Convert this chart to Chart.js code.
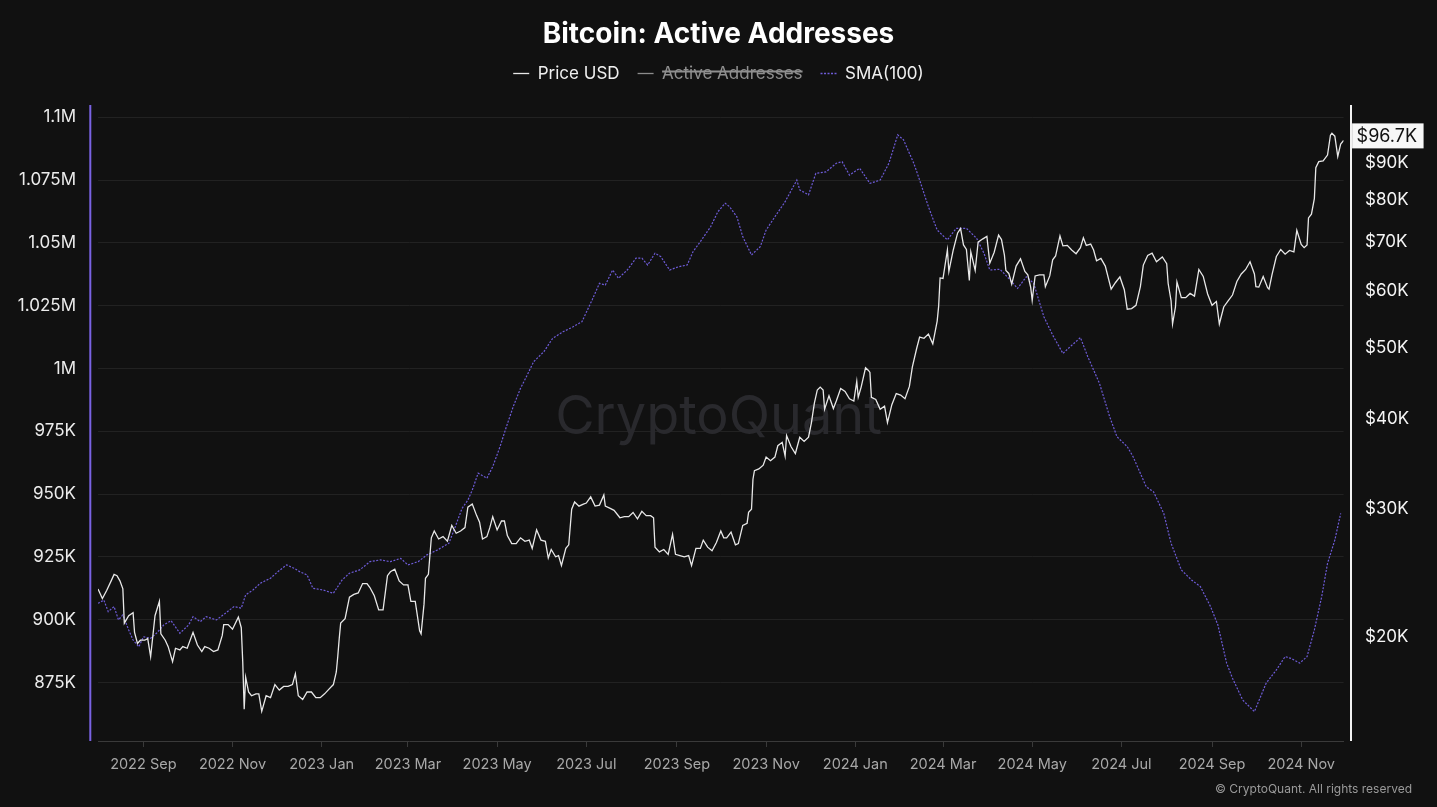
<!DOCTYPE html>
<html>
<head>
<meta charset="utf-8">
<title>Bitcoin: Active Addresses</title>
<script src="https://cdn.jsdelivr.net/npm/chart.js@4.4.1/dist/chart.umd.min.js"></script>
<style>
  html, body { margin: 0; padding: 0; background: #111111; }
  #wrap { position: relative; width: 1437px; height: 807px; }
</style>
</head>
<body>
<div id="wrap"><canvas id="chart"></canvas></div>
<script>
// BTC price (right axis, log)
const priceDates = [
  '2022-08-01','2022-08-04','2022-08-07','2022-08-10','2022-08-12','2022-08-14','2022-08-16','2022-08-18','2022-08-19','2022-08-22',
  '2022-08-25','2022-08-26','2022-08-28','2022-08-30','2022-09-02','2022-09-04','2022-09-06','2022-09-09','2022-09-12','2022-09-13',
  '2022-09-16','2022-09-18','2022-09-21','2022-09-23','2022-09-26','2022-09-28','2022-10-01','2022-10-05','2022-10-08','2022-10-11',
  '2022-10-13','2022-10-16','2022-10-19','2022-10-22','2022-10-25','2022-10-26','2022-10-29','2022-11-01','2022-11-05','2022-11-07',
  '2022-11-08','2022-11-09','2022-11-10','2022-11-12','2022-11-14','2022-11-17','2022-11-19','2022-11-21','2022-11-24','2022-11-27',
  '2022-11-30','2022-12-03','2022-12-06','2022-12-09','2022-12-12','2022-12-14','2022-12-16','2022-12-19','2022-12-22','2022-12-25',
  '2022-12-28','2022-12-31','2023-01-03','2023-01-06','2023-01-09','2023-01-11','2023-01-12','2023-01-13','2023-01-14','2023-01-17',
  '2023-01-20','2023-01-23','2023-01-26','2023-01-29','2023-02-01','2023-02-03','2023-02-06','2023-02-09','2023-02-12','2023-02-15',
  '2023-02-17','2023-02-20','2023-02-23','2023-02-26','2023-03-01','2023-03-03','2023-03-06','2023-03-09','2023-03-10','2023-03-12',
  '2023-03-13','2023-03-15','2023-03-17','2023-03-19','2023-03-22','2023-03-25','2023-03-28','2023-03-31','2023-04-03','2023-04-06',
  '2023-04-09','2023-04-11','2023-04-14','2023-04-17','2023-04-19','2023-04-21','2023-04-24','2023-04-26','2023-04-28','2023-05-01',
  '2023-05-04','2023-05-06','2023-05-08','2023-05-11','2023-05-14','2023-05-17','2023-05-20','2023-05-23','2023-05-25','2023-05-28',
  '2023-05-31','2023-06-03','2023-06-05','2023-06-07','2023-06-10','2023-06-12','2023-06-14','2023-06-17','2023-06-19','2023-06-21',
  '2023-06-23','2023-06-26','2023-06-29','2023-07-01','2023-07-04','2023-07-07','2023-07-10','2023-07-13','2023-07-14','2023-07-17',
  '2023-07-20','2023-07-24','2023-07-27','2023-07-30','2023-08-02','2023-08-05','2023-08-08','2023-08-11','2023-08-14','2023-08-16',
  '2023-08-17','2023-08-20','2023-08-23','2023-08-26','2023-08-29','2023-08-31','2023-09-03','2023-09-06','2023-09-09','2023-09-11',
  '2023-09-14','2023-09-17','2023-09-19','2023-09-22','2023-09-25','2023-09-28','2023-10-01','2023-10-03','2023-10-05','2023-10-08',
  '2023-10-11','2023-10-13','2023-10-16','2023-10-19','2023-10-20','2023-10-22','2023-10-23','2023-10-24','2023-10-27','2023-10-30',
  '2023-11-01','2023-11-04','2023-11-07','2023-11-09','2023-11-12','2023-11-14','2023-11-15','2023-11-18','2023-11-21','2023-11-24',
  '2023-11-27','2023-11-30','2023-12-02','2023-12-04','2023-12-06','2023-12-08','2023-12-10','2023-12-11','2023-12-14','2023-12-17',
  '2023-12-19','2023-12-22','2023-12-25','2023-12-28','2023-12-31','2024-01-02','2024-01-03','2024-01-05','2024-01-08','2024-01-10',
  '2024-01-11','2024-01-12','2024-01-15','2024-01-18','2024-01-21','2024-01-23','2024-01-26','2024-01-29','2024-02-01','2024-02-04',
  '2024-02-07','2024-02-09','2024-02-12','2024-02-14','2024-02-17','2024-02-20','2024-02-23','2024-02-26','2024-02-27','2024-02-28',
  '2024-03-01','2024-03-04','2024-03-05','2024-03-08','2024-03-11','2024-03-13','2024-03-15','2024-03-17','2024-03-19','2024-03-20',
  '2024-03-23','2024-03-25','2024-03-28','2024-03-31','2024-04-02','2024-04-05','2024-04-08','2024-04-10','2024-04-12','2024-04-13',
  '2024-04-15','2024-04-17','2024-04-20','2024-04-23','2024-04-26','2024-04-28','2024-04-30','2024-05-01','2024-05-03','2024-05-06',
  '2024-05-09','2024-05-10','2024-05-13','2024-05-15','2024-05-17','2024-05-20','2024-05-22','2024-05-25','2024-05-28','2024-05-31',
  '2024-06-03','2024-06-05','2024-06-07','2024-06-10','2024-06-12','2024-06-14','2024-06-17','2024-06-20','2024-06-24','2024-06-27',
  '2024-06-30','2024-07-03','2024-07-05','2024-07-08','2024-07-11','2024-07-14','2024-07-16','2024-07-19','2024-07-22','2024-07-25',
  '2024-07-29','2024-08-01','2024-08-02','2024-08-04','2024-08-05','2024-08-07','2024-08-08','2024-08-11','2024-08-14','2024-08-17',
  '2024-08-20','2024-08-23','2024-08-26','2024-08-29','2024-09-01','2024-09-04','2024-09-06','2024-09-09','2024-09-12','2024-09-15',
  '2024-09-18','2024-09-21','2024-09-24','2024-09-27','2024-09-30','2024-10-01','2024-10-03','2024-10-06','2024-10-09','2024-10-10',
  '2024-10-12','2024-10-15','2024-10-18','2024-10-21','2024-10-24','2024-10-27','2024-10-29','2024-11-01','2024-11-03','2024-11-05',
  '2024-11-06','2024-11-08','2024-11-10','2024-11-11','2024-11-13','2024-11-16','2024-11-19','2024-11-21','2024-11-22','2024-11-24',
  '2024-11-26','2024-11-28','2024-11-30'
];
const priceValues = [
  23300,22600,23200,23900,24400,24300,23900,23300,20900,21400,
  21600,20300,19600,19800,19800,19900,18800,21400,22400,20200,
  19800,19400,18500,19300,19200,19400,19300,20300,19500,19100,
  19400,19300,19100,19200,20100,20800,20800,20500,21300,20600,
  18500,15900,17600,16800,16600,16700,16700,15800,16600,16500,
  17200,16900,17100,17100,17200,17800,16600,16400,16800,16800,
  16500,16500,16700,16950,17200,17900,18800,19900,20900,21200,
  22700,22900,23000,23700,23700,23400,22800,21800,21800,24300,
  24600,24800,23900,23600,23600,22400,22400,20400,20200,22200,
  24100,24400,27400,28000,27300,27500,27100,28500,27800,28000,
  28300,30200,30500,29400,28800,27300,27500,28300,29300,28100,
  28900,28900,27600,26900,26900,27400,27100,27200,26500,28100,
  27200,27100,25700,26400,25800,25900,25100,26500,26800,30000,
  30700,30300,30500,30600,31200,30300,30400,31400,30300,30100,
  29900,29200,29300,29300,29700,29100,29800,29400,29400,29200,
  26600,26200,26400,26000,27700,26000,25900,25800,25900,25100,
  26500,26500,27200,26600,26300,27000,28000,27400,27400,27900,
  26800,26900,28500,28700,29700,30000,33000,33900,34100,34500,
  35400,35000,35400,36700,37100,35500,37900,36600,35800,37700,
  37200,37700,39500,42000,43800,44200,43800,41200,43000,41300,
  42300,44000,43600,42600,42300,45000,42800,44200,47000,46600,
  46300,42800,42500,41200,41600,39500,41800,43300,43100,42600,
  44300,47100,50000,51800,51600,52300,50700,54500,57100,62500,
  62400,68300,63800,68300,72100,73100,69400,68400,62000,67900,
  64000,70000,70700,71300,65500,67800,71600,70600,67200,64000,
  63400,61300,64900,66400,63800,63100,60600,58200,62900,63100,
  63100,60800,62900,66200,67000,71400,69200,69300,68300,67500,
  68800,71000,69300,69600,68300,66000,66500,64900,60300,61600,
  62700,60200,56600,56700,57300,60800,65100,67100,67600,65800,
  66800,65400,61400,58100,54000,57000,61700,58700,58700,59500,
  59000,64200,62800,59400,57300,58000,54000,57000,58100,59200,
  61800,63300,64200,65800,63300,60800,60700,62800,60600,60300,
  63100,66900,68400,67400,68200,67900,72700,69500,68800,69400,
  75600,76500,80400,88700,90400,90600,92300,98300,98900,98000,
  91900,95600,96700
];

// SMA(100) of active addresses (left axis)
const smaDates = [
  '2022-08-01','2022-08-05','2022-08-08','2022-08-12','2022-08-15','2022-08-18','2022-08-22','2022-08-25','2022-08-29','2022-09-01',
  '2022-09-06','2022-09-10','2022-09-15','2022-09-20','2022-09-26','2022-10-02','2022-10-05','2022-10-10','2022-10-14','2022-10-21',
  '2022-10-27','2022-11-02','2022-11-07','2022-11-10','2022-11-15','2022-11-20','2022-11-27','2022-12-02','2022-12-08','2022-12-13',
  '2022-12-17','2022-12-22','2022-12-26','2023-01-02','2023-01-09','2023-01-15','2023-01-20','2023-01-27','2023-02-03','2023-02-10',
  '2023-02-17','2023-02-24','2023-03-01','2023-03-08','2023-03-14','2023-03-21','2023-03-29','2023-04-02','2023-04-07','2023-04-11',
  '2023-04-14','2023-04-18','2023-04-24','2023-04-28','2023-05-03','2023-05-07','2023-05-12','2023-05-17','2023-05-21','2023-05-26',
  '2023-06-02','2023-06-08','2023-06-15','2023-06-22','2023-06-28','2023-07-05','2023-07-10','2023-07-14','2023-07-19','2023-07-23',
  '2023-07-29','2023-08-04','2023-08-08','2023-08-12','2023-08-17','2023-08-21','2023-08-27','2023-09-02','2023-09-08','2023-09-12',
  '2023-09-17','2023-09-24','2023-09-29','2023-10-04','2023-10-07','2023-10-12','2023-10-16','2023-10-22','2023-10-28','2023-11-01',
  '2023-11-07','2023-11-14','2023-11-22','2023-11-24','2023-11-30','2023-12-05','2023-12-12','2023-12-19','2023-12-23','2023-12-28',
  '2024-01-04','2024-01-11','2024-01-18','2024-01-24','2024-01-30','2024-02-03','2024-02-10','2024-02-14','2024-02-20','2024-02-26',
  '2024-03-04','2024-03-10','2024-03-17','2024-03-24','2024-03-29','2024-04-02','2024-04-09','2024-04-16','2024-04-21','2024-04-27',
  '2024-05-02','2024-05-09','2024-05-15','2024-05-22','2024-05-27','2024-06-03','2024-06-08','2024-06-16','2024-06-23','2024-06-28',
  '2024-07-05','2024-07-09','2024-07-18','2024-07-23','2024-07-30','2024-08-04','2024-08-11','2024-08-18','2024-08-24','2024-08-31',
  '2024-09-05','2024-09-11','2024-09-15','2024-09-22','2024-09-30','2024-10-08','2024-10-15','2024-10-21','2024-10-25','2024-10-31',
  '2024-11-05','2024-11-10','2024-11-15','2024-11-19','2024-11-24','2024-11-28'
];
const smaValues = [
  906500,907800,903200,905200,899900,901900,895900,891900,889200,893200,
  892600,894600,897900,899600,894600,897900,901200,899200,901200,899900,
  902500,905200,904600,909900,911800,914500,916500,919100,921800,920500,
  919100,917800,912500,911800,910500,915800,918500,919800,923100,923800,
  923100,924400,921800,923100,925800,927700,930400,936400,944300,947600,
  951600,958300,956300,960900,968900,976200,984800,992100,996700,1002700,
  1006700,1012000,1014600,1016600,1018600,1027300,1033900,1033200,1039200,1035900,
  1039200,1043900,1043900,1041200,1045900,1044500,1039200,1040500,1041200,1046500,
  1050500,1056400,1062400,1065800,1064400,1060400,1052500,1045200,1048500,1055100,
  1060400,1066400,1075000,1071100,1069100,1077700,1078300,1081700,1082300,1077000,
  1079700,1073700,1075000,1081700,1093000,1091000,1081700,1075000,1064400,1055100,
  1051200,1055800,1055800,1051800,1045900,1039200,1039500,1035200,1031900,1036500,
  1033900,1020600,1013300,1006000,1008700,1012300,1004700,994100,980800,972800,
  968900,964900,952900,950900,942300,930400,919800,915800,913200,905200,
  897900,882700,876700,868000,863400,874700,880000,885300,884600,882700,
  885300,895900,909100,922400,931700,942300
];

// hidden in the legend (struck through), nothing drawn
const activeAddresses = [];

const leftTicks = [875000, 900000, 925000, 950000, 975000, 1000000, 1025000, 1050000, 1075000, 1100000];
const rightTicks = [20000, 30000, 40000, 50000, 60000, 70000, 80000, 90000];
const xTickDates = ['2022-09-01','2022-11-01','2023-01-01','2023-03-01','2023-05-01','2023-07-01','2023-09-01',
  '2023-11-01','2024-01-01','2024-03-01','2024-05-01','2024-07-01','2024-09-01','2024-11-01'];
const xTickLabels = ['2022 Sep','2022 Nov','2023 Jan','2023 Mar','2023 May','2023 Jul','2023 Sep',
  '2023 Nov','2024 Jan','2024 Mar','2024 May','2024 Jul','2024 Sep','2024 Nov'];

const FONT = 'Inter';

function toPoints(dates, values) {
  return dates.map((d, i) => ({ x: Date.parse(d), y: values[i] }));
}

function fmtLeft(v) {
  if (v >= 1000000) return (v / 1000000) + 'M';
  return (v / 1000) + 'K';
}

const decor = {
  id: 'decor',
  beforeDraw(chart) {
    const ctx = chart.ctx;
    ctx.save();
    ctx.fillStyle = '#111111';
    ctx.fillRect(0, 0, chart.width, chart.height);
    ctx.restore();
  },
  beforeDatasetsDraw(chart) {
    const { ctx, chartArea: a } = chart;
    ctx.save();
    ctx.font = '54px ' + FONT;
    ctx.fillStyle = '#29292d';
    ctx.textAlign = 'center';
    ctx.textBaseline = 'middle';
    ctx.fillText('CryptoQuant', chart.width / 2, a.top + 313);
    ctx.restore();
  },
  afterDraw(chart) {
    const { ctx, chartArea: a, scales } = chart;
    ctx.save();
    // axis lines
    ctx.lineWidth = 2;
    ctx.strokeStyle = '#7a63e4';
    ctx.beginPath();
    ctx.moveTo(a.left - 7.7, a.top);
    ctx.lineTo(a.left - 7.7, a.bottom);
    ctx.stroke();
    ctx.strokeStyle = '#f2f2f2';
    ctx.beginPath();
    ctx.moveTo(a.right + 7.4, a.top);
    ctx.lineTo(a.right + 7.4, a.bottom);
    ctx.stroke();

    // last price tag
    const last = priceValues[priceValues.length - 1];
    const y = scales.y1.getPixelForValue(last);
    const txt = '$' + (last / 1000).toFixed(1) + 'K';
    ctx.font = '18px ' + FONT;
    const w = ctx.measureText(txt).width + 11;
    ctx.fillStyle = '#f7f7f7';
    ctx.fillRect(a.right + 8.5, y - 17, w, 25);
    ctx.fillStyle = '#111111';
    ctx.textAlign = 'left';
    ctx.textBaseline = 'middle';
    ctx.fillText(txt, a.right + 13, y - 3.8);

    // copyright
    ctx.font = '12px ' + FONT;
    ctx.fillStyle = '#9a9a9a';
    ctx.textAlign = 'right';
    ctx.fillText('\u00A9 CryptoQuant. All rights reserved', chart.width - 25, 789);
    ctx.restore();
  }
};

new Chart(document.getElementById('chart'), {
  type: 'line',
  data: {
    datasets: [
      {
        label: 'Price USD',
        data: toPoints(priceDates, priceValues),
        yAxisID: 'y1',
        borderColor: '#e8e8e8',
        borderWidth: 1.3,
        pointRadius: 0,
        tension: 0
      },
      {
        label: 'Active Addresses',
        data: activeAddresses,
        yAxisID: 'y',
        hidden: true,
        borderColor: '#8c8c8c',
        borderWidth: 1.3,
        pointRadius: 0
      },
      {
        label: 'SMA(100)',
        data: toPoints(smaDates, smaValues),
        yAxisID: 'y',
        borderColor: '#6e5cd8',
        borderWidth: 1.2,
        borderDash: [2, 1.5],
        pointRadius: 0,
        tension: 0
      }
    ]
  },
  options: {
    responsive: true,
    maintainAspectRatio: false,
    animation: false,
    layout: { padding: 0 },
    plugins: {
      title: {
        display: true,
        text: 'Bitcoin: Active Addresses',
        color: '#ffffff',
        font: { family: FONT, size: 28, weight: 'bold', lineHeight: 1 },
        padding: { top: 21, bottom: -2 }
      },
      legend: {
        display: true,
        position: 'top',
        weight: 1800,
        labels: {
          color: '#f0f0f0',
          font: { family: FONT, size: 17 },
          usePointStyle: true,
          pointStyle: 'line',
          pointStyleWidth: 16,
          padding: 18,
          generateLabels(chart) {
            const items = Chart.defaults.plugins.legend.labels.generateLabels(chart);
            items.forEach(it => {
              const ds = chart.data.datasets[it.datasetIndex];
              it.strokeStyle = ds.borderColor;
              it.lineWidth = 1.3;
              it.lineDash = ds.borderDash || [];
              if (it.hidden) it.fontColor = '#8f8f8f';
            });
            return items;
          }
        }
      },
      subtitle: {
        display: true,
        text: '',
        font: { size: 1, lineHeight: 1 },
        padding: { top: 0, bottom: 12 }
      },
      tooltip: { enabled: false }
    },
    scales: {
      x: {
        type: 'linear',
        min: Date.parse(priceDates[0]),
        max: Date.parse(priceDates[priceDates.length - 1]),
        afterBuildTicks: s => { s.ticks = xTickDates.map(d => ({ value: Date.parse(d) })); },
        afterFit: s => { s.height = 66; },
        grid: { drawOnChartArea: false, drawTicks: true, tickLength: 6, color: '#3a3a3a' },
        border: { display: true, color: '#3a3a3a' },
        ticks: {
          autoSkip: false,
          maxRotation: 0,
          padding: 9,
          color: '#a8a8a8',
          font: { family: FONT, size: 14.5 },
          callback: (v, i) => xTickLabels[i]
        }
      },
      y: {
        type: 'linear',
        position: 'left',
        min: 851700,
        max: 1104900,
        afterBuildTicks: s => { s.ticks = leftTicks.map(v => ({ value: v })); },
        afterFit: s => { s.width = 98; },
        grid: { color: '#222222', drawTicks: false },
        border: { display: false },
        ticks: {
          padding: 22,
          color: '#ececec',
          font: { family: FONT, size: 17 },
          callback: v => fmtLeft(v)
        }
      },
      y1: {
        type: 'logarithmic',
        position: 'right',
        min: 14380,
        max: 108190,
        afterBuildTicks: s => { s.ticks = rightTicks.map(v => ({ value: v })); },
        afterFit: s => { s.width = 93.4; },
        grid: { display: false, drawTicks: false },
        border: { display: false },
        ticks: {
          padding: 21.5,
          color: '#f5f5f5',
          font: { family: FONT, size: 17 },
          callback: v => '$' + (v / 1000) + 'K'
        }
      }
    }
  },
  plugins: [decor]
});
</script>
</body>
</html>
